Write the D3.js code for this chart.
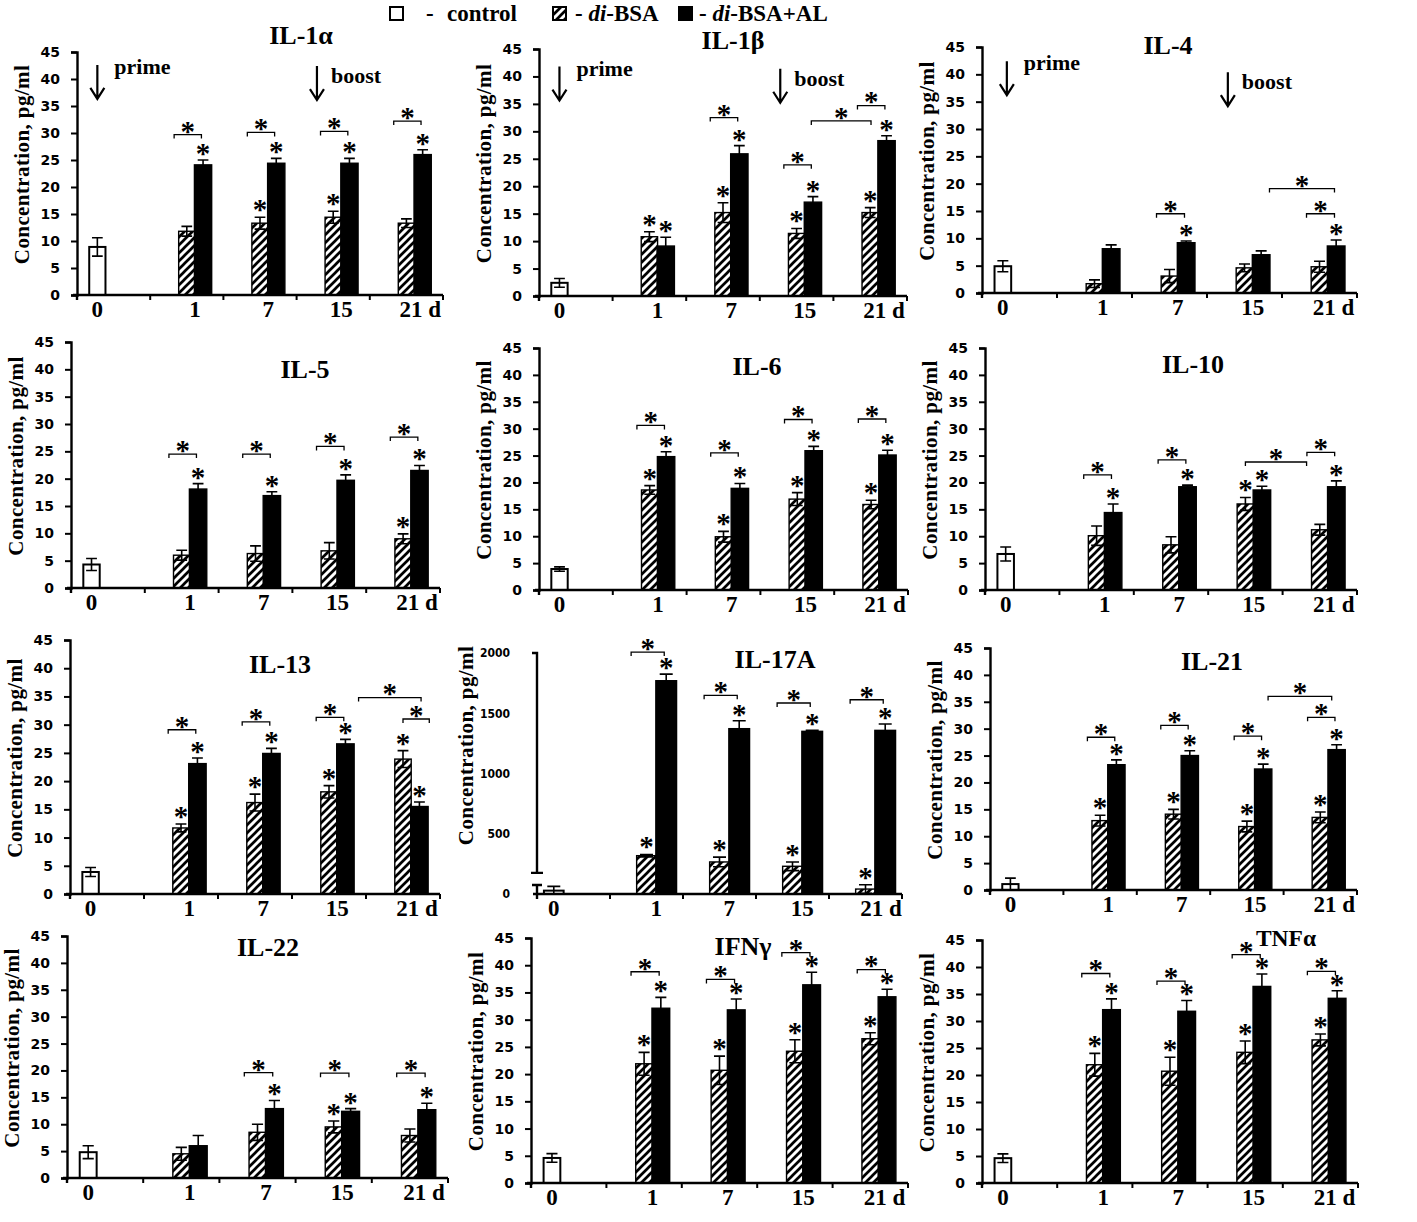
<!DOCTYPE html>
<html><head><meta charset="utf-8">
<script src="https://cdn.jsdelivr.net/npm/d3@7/dist/d3.min.js"></script>
<style>
body{margin:0;background:#fff;}
svg{display:block;background:#fff;}
</style></head><body>
<svg id="c" width="1417" height="1222"></svg>
<script>
// ---------------- DATA ----------------
const days = ["0", "1", "7", "15", "21 d"];
const seriesNames = ["control", "di-BSA", "di-BSA+AL"];
const titles = ["IL-1α", "IL-1β", "IL-4", "IL-5", "IL-6", "IL-10", "IL-13", "IL-17A", "IL-21", "IL-22", "IFNγ", "TNFα"];
const yMax  = [45, 45, 45, 45, 45, 45, 45, 2000, 45, 45, 45, 45];
const yStep = [5, 5, 5, 5, 5, 5, 5, 500, 5, 5, 5, 5];

// control (day 0) mean and error, one per panel
const control    = [8.9, 2.4, 4.9, 4.3, 3.9, 6.7, 3.9, 28, 1.1, 4.8, 4.6, 4.6];
const controlErr = [1.7, 0.8, 1.0, 1.1, 0.4, 1.3, 0.8, 35, 1.1, 1.2, 0.8, 0.8];

// di-BSA, days 1, 7, 15, 21
const diBSA = [
  [11.8, 13.3, 14.4, 13.3],
  [10.8, 15.2, 11.4, 15.2],
  [1.7, 3.1, 4.6, 4.8],
  [6.0, 6.3, 6.8, 9.0],
  [18.6, 9.9, 16.9, 15.9],
  [10.1, 8.4, 16.0, 11.2],
  [11.7, 16.2, 18.1, 23.9],
  [318, 266, 230, 41],
  [12.9, 14.1, 11.8, 13.5],
  [4.5, 8.5, 9.5, 7.9],
  [21.9, 20.7, 24.2, 26.5],
  [21.9, 20.7, 24.2, 26.5]
];
const diBSAErr = [
  [0.9, 1.1, 1.1, 0.8],
  [0.9, 1.8, 0.9, 0.9],
  [0.7, 1.2, 0.7, 1.0],
  [0.9, 1.4, 1.5, 0.9],
  [0.8, 1.0, 1.2, 0.8],
  [1.8, 1.5, 1.2, 1.0],
  [0.7, 1.5, 1.1, 1.5],
  [10, 40, 36, 36],
  [1.0, 0.9, 1.0, 1.0],
  [1.2, 1.5, 1.1, 1.2],
  [2.1, 2.6, 2.1, 1.1],
  [2.1, 2.6, 2.1, 1.1]
];
// di-BSA+AL, days 1, 7, 15, 21
const diBSAAL = [
  [24.1, 24.4, 24.4, 26.0],
  [9.1, 25.9, 17.1, 28.3],
  [8.1, 9.2, 7.0, 8.6],
  [18.1, 16.9, 19.7, 21.5],
  [24.8, 18.9, 25.9, 25.1],
  [14.4, 19.2, 18.6, 19.2],
  [23.1, 24.9, 26.6, 15.5],
  [1770, 1372, 1350, 1358],
  [23.3, 25.0, 22.5, 26.1],
  [6.0, 12.9, 12.4, 12.7],
  [32.1, 31.8, 36.4, 34.2],
  [32.1, 31.8, 36.4, 34.2]
];
const diBSAALErr = [
  [0.9, 0.9, 0.9, 0.9],
  [1.6, 1.5, 1.0, 0.9],
  [0.7, 0.3, 0.7, 1.1],
  [1.0, 0.7, 1.0, 0.9],
  [0.9, 0.9, 0.8, 0.9],
  [1.6, 0.3, 0.7, 1.1],
  [1.0, 0.9, 0.8, 0.8],
  [55, 66, 8, 53],
  [0.9, 0.9, 0.9, 0.9],
  [1.9, 1.5, 0.5, 1.2],
  [2.0, 2.0, 2.3, 1.4],
  [2.0, 2.0, 2.3, 1.4]
];

// significance stars above di-BSA / di-BSA+AL bars (1 = star)
const starBSA = [
  [0,1,1,0],[1,1,1,1],[0,0,0,0],[0,0,0,1],[1,1,1,1],[0,0,1,0],
  [1,1,1,1],[1,1,1,1],[1,1,1,1],[0,0,1,0],[1,1,1,1],[1,1,1,1]
];
const starBSAAL = [
  [1,1,1,1],[1,1,1,1],[0,1,0,1],[1,1,1,1],[1,1,1,1],[1,1,1,1],
  [1,1,1,1],[1,1,1,1],[1,1,1,1],[0,1,1,1],[1,1,1,1],[1,1,1,1]
];
// bracket between di-BSA and di-BSA+AL in each group: level, or [level, fromSeries, toSeries]; null = none
const pairBracket = [
  [29.7, 30.1, 30.3, 32.2],
  [null, 32.5, 23.9, 34.7],
  [null, 14.5, null, 14.5],
  [24.5, 24.5, 25.9, 27.6],
  [30.6, 25.5, 31.7, 31.8],
  [21.4, 24.2, null, 25.6],
  [29.1, 30.5, 31.3, [31.0, 1.0, 2.6]],
  [2008, 1649, 1585, 1612],
  [28.4, 30.6, 28.6, 32.1],
  [null, 19.6, 19.5, 19.5],
  [38.8, 37.4, 42.3, 39.2],
  [38.8, 37.4, 42.3, 39.2]
];
// long bracket day 15 -> day 21: [fromDay, fromSeries, toDay, toSeries, level]
const longBracket = [
  null,
  ["15", 1.9, "21 d", 1.05, 31.9],
  ["15", 2.5, "21 d", 1.9, 19.1],
  null, null,
  ["15", 1.0, "21 d", 0.2, 23.8],
  ["15", 2.8, "21 d", 2.1, 34.8],
  null,
  ["15", 2.3, "21 d", 1.7, 36.0],
  null, null, null
];
// immunisation arrows (first row panels)
const arrowLabels = ["prime", "boost"];
const arrowDays = ["0", "15"];
const arrowTop = [[42.6, 42.4], [41.8, 41.4], [42.4, 40.4]];

// ---------------- LAYOUT ----------------
const layout = [
  {x0:77,  x1:443,  y0:295,  y1:52,  tx:301,  ty:44,  fs:26},
  {x0:539, x1:907,  y0:296,  y1:49,  tx:733,  ty:49,  fs:26},
  {x0:982, x1:1357, y0:293,  y1:47,  tx:1168, ty:54,  fs:26},
  {x0:71,  x1:440,  y0:588,  y1:342, tx:305,  ty:378, fs:26},
  {x0:539, x1:908,  y0:590,  y1:348, tx:757,  ty:375, fs:26},
  {x0:985, x1:1357, y0:590,  y1:348, tx:1193, ty:373, fs:26},
  {x0:70,  x1:440,  y0:894,  y1:640, tx:280,  ty:673, fs:26},
  {x0:537, x1:902,  y0:894,  y1:653, tx:775,  ty:668, fs:26},
  {x0:990, x1:1357, y0:890,  y1:648, tx:1212, ty:670, fs:26},
  {x0:67,  x1:448,  y0:1178, y1:936, tx:268,  ty:956, fs:26},
  {x0:531, x1:908,  y0:1183, y1:938, tx:743,  ty:955, fs:26},
  {x0:982, x1:1358, y0:1183, y1:940, tx:1286, ty:946, fs:23.5}
];
const SERIF = '"Liberation Serif","Times New Roman",Times,serif';
const SANS = '"DejaVu Sans",Verdana,sans-serif';
const STAR_FS = 29;

const svg = d3.select("#c");
const defs = svg.append("defs");
const pat = defs.append("pattern").attr("id", "hatch")
  .attr("patternUnits", "userSpaceOnUse").attr("width", 8).attr("height", 8);
pat.append("rect").attr("width", 8).attr("height", 8).attr("fill", "#fff");
pat.append("path").attr("d", "M-2,2L2,-2M0,8L8,0M6,10L10,6")
  .attr("stroke", "#000").attr("stroke-width", 2.7);

function star(g, cx, cy) {
  g.append("text").attr("x", cx).attr("y", cy + STAR_FS * 0.48)
    .attr("text-anchor", "middle").attr("font-family", SERIF)
    .attr("font-weight", "bold").attr("font-size", STAR_FS).text("*");
}
function bracket(g, xa, xb, yy) {
  g.append("path").attr("d", `M${xa},${yy + 4}V${yy}H${xb}V${yy + 4}`)
    .attr("fill", "none").attr("stroke", "#000").attr("stroke-width", 1.3);
}

titles.forEach((t, i) => drawPanel(i));

function drawPanel(i) {
  const L = layout[i];
  const g = svg.append("g");
  const x = d3.scaleBand().domain(days).range([L.x0, L.x1]);
  const bw = x.bandwidth();
  const barW = bw * (i === 7 ? 0.27 : 0.222);
  const off = (bw - 3 * barW) / 2;
  const sx = (d, s) => x(d) + off + s * barW + barW / 2;
  const y = d3.scaleLinear().domain([0, yMax[i]]).range([L.y0, L.y1]);

  const bars = [{d: days[0], s: 0, v: control[i], e: controlErr[i]}];
  days.slice(1).forEach((d, k) => {
    bars.push({d, s: 1, v: diBSA[i][k], e: diBSAErr[i][k]});
    bars.push({d, s: 2, v: diBSAAL[i][k], e: diBSAALErr[i][k]});
  });
  const fills = ["#fff", "url(#hatch)", "#000"];

  g.selectAll("rect.bar").data(bars).join("rect").attr("class", "bar")
    .attr("x", b => sx(b.d, b.s) - barW / 2 - (b.s === 2 ? 0.5 : 0))
    .attr("y", b => y(b.v))
    .attr("width", b => barW + (b.s === 2 ? 1 : 0))
    .attr("height", b => y(0) - y(b.v))
    .attr("fill", b => fills[b.s])
    .attr("stroke", "#000")
    .attr("stroke-width", b => b.s === 0 ? 2 : 1.4);

  // error bars
  const cap = barW * 0.33;
  g.selectAll("path.err").data(bars).join("path").attr("class", "err")
    .attr("d", b => {
      const cx = sx(b.d, b.s), t = y(b.v + b.e), bo = y(Math.max(0, b.v - b.e));
      return `M${cx},${bo}V${t}M${cx - cap},${t}H${cx + cap}M${cx - cap},${bo}H${cx + cap}`;
    })
    .attr("fill", "none").attr("stroke", "#000").attr("stroke-width", 1.6);

  // y axis
  const ticks = d3.range(0, yMax[i] + 1e-9, yStep[i]);
  const ag = g.append("g").attr("transform", `translate(${L.x0},0)`)
    .call(d3.axisLeft(y).tickValues(ticks).tickSize(6).tickPadding(i === 7 ? 21 : 11).tickFormat(d3.format("d")));
  ag.select(".domain").attr("stroke-width", 2.4).attr("stroke", "#000");
  ag.selectAll(".tick line").attr("stroke-width", 2).attr("stroke", "#000");
  ag.selectAll(".tick text").attr("font-family", i === 7 ? '"DejaVu Sans Condensed","DejaVu Sans",sans-serif' : SANS)
    .attr("font-weight", "bold").attr("font-size", i === 7 ? 12 : 14).attr("fill", "#000");
  if (i === 7) {
    // axis break at the bottom
    ag.selectAll(".tick line").attr("stroke", "none");
    ag.select(".domain").remove();
    ag.append("path").attr("d", `M-5,${y(yMax[i])}H0V${y(175)}M-6,${y(175)}H6`)
      .attr("stroke", "#000").attr("stroke-width", 2.4).attr("fill", "none");
    ag.append("path").attr("d", `M0,${y(0)}V${y(75)}M-5,${y(75)}H5`)
      .attr("stroke", "#000").attr("stroke-width", 2.4).attr("fill", "none");
  }

  // x axis
  g.append("line").attr("x1", L.x0 - 4).attr("x2", L.x1).attr("y1", y(0)).attr("y2", y(0))
    .attr("stroke", "#000").attr("stroke-width", 2.4);
  g.selectAll("line.xt").data(days).join("line").attr("class", "xt")
    .attr("x1", d => x(d) + bw).attr("x2", d => x(d) + bw)
    .attr("y1", y(0)).attr("y2", y(0) + 5)
    .attr("stroke", "#000").attr("stroke-width", 2);
  g.append("line").attr("x1", L.x0).attr("x2", L.x0).attr("y1", y(0)).attr("y2", y(0) + 5)
    .attr("stroke", "#000").attr("stroke-width", 2.4);
  g.selectAll("text.xl").data(days).join("text").attr("class", "xl")
    .attr("x", (d, k) => k === 0 ? sx(d, 0) : (k === 4 ? x(d) + off + 2 * barW - 15 : x(d) + off + 2 * barW))
    .attr("y", y(0) + 22)
    .attr("text-anchor", (d, k) => k === 4 ? "start" : "middle")
    .attr("font-family", SERIF).attr("font-weight", "bold").attr("font-size", 23)
    .text(d => d);

  // y axis title
  const mid = (L.y0 + L.y1) / 2 - (i === 7 ? 28 : 9);
  g.append("text").attr("transform", `translate(${L.x0 - (i === 7 ? 64 : 48)},${mid}) rotate(-90)`)
    .attr("text-anchor", "middle").attr("font-family", SERIF).attr("font-weight", "bold")
    .attr("font-size", 21).attr("letter-spacing", 0.4).text("Concentration, pg/ml");

  // panel title
  g.append("text").attr("x", L.tx).attr("y", L.ty).attr("text-anchor", "middle")
    .attr("font-family", SERIF).attr("font-weight", "bold").attr("font-size", L.fs).text(titles[i]);

  // stars above bars
  days.slice(1).forEach((d, k) => {
    if (starBSA[i][k]) star(g, sx(d, 1), y(diBSA[i][k] + diBSAErr[i][k]) - 12);
    if (starBSAAL[i][k]) star(g, sx(d, 2), y(diBSAAL[i][k] + diBSAALErr[i][k]) - 11);
    const pb = pairBracket[i][k];
    if (pb != null) {
      const lvl = Array.isArray(pb) ? pb[0] : pb;
      const s1 = Array.isArray(pb) ? pb[1] : 0.22, s2 = Array.isArray(pb) ? pb[2] : 1.9;
      const xa = sx(d, s1), xb = sx(d, s2), yy = y(lvl);
      bracket(g, xa, xb, yy);
      star(g, (xa + xb) / 2, yy - 8);
    }
  });
  const lb = longBracket[i];
  if (lb) {
    const xa = sx(lb[0], lb[1]), xb = sx(lb[2], lb[3]), yy = y(lb[4]);
    bracket(g, xa, xb, yy);
    star(g, (xa + xb) / 2, yy - 8);
  }

  // prime / boost arrows
  if (i < 3) {
    arrowDays.forEach((d, k) => {
      const ax = sx(d, 0) + (i === 2 && k === 0 ? 4 : 0), top = y(arrowTop[i][k]), bot = top + 34;
      g.append("path").attr("d", `M${ax},${top}V${bot}M${ax - 7},${bot - 11}L${ax},${bot}L${ax + 7},${bot - 11}`)
        .attr("fill", "none").attr("stroke", "#000").attr("stroke-width", 2.2);
      g.append("text").attr("x", ax + (k === 0 ? 17 : 14)).attr("y", top + (k === 0 ? 9 : 17))
        .attr("font-family", SERIF).attr("font-weight", "bold").attr("font-size", 22)
        .text(arrowLabels[k]);
    });
  }
}

// ---------------- LEGEND ----------------
const lg = svg.append("g").attr("font-family", SERIF).attr("font-weight", "bold").attr("font-size", 23);
const legendSq = [390, 553, 679];
const legendFill = ["#fff", "url(#hatch)", "#000"];
lg.selectAll("rect").data(seriesNames).join("rect")
  .attr("x", (d, k) => legendSq[k]).attr("y", 7).attr("width", 13).attr("height", 13)
  .attr("fill", (d, k) => legendFill[k]).attr("stroke", "#000").attr("stroke-width", 2);
lg.append("text").attr("x", 426).attr("y", 21).text("-");
lg.append("text").attr("x", 447).attr("y", 21).text(seriesNames[0]);
[[575, 1], [699, 2]].forEach(([lx, k]) => {
  const t = lg.append("text").attr("x", lx).attr("y", 21);
  t.append("tspan").text("- ");
  t.append("tspan").attr("font-style", "italic").text(seriesNames[k].slice(0, 2));
  t.append("tspan").text(seriesNames[k].slice(2));
});
</script>
</body></html>
